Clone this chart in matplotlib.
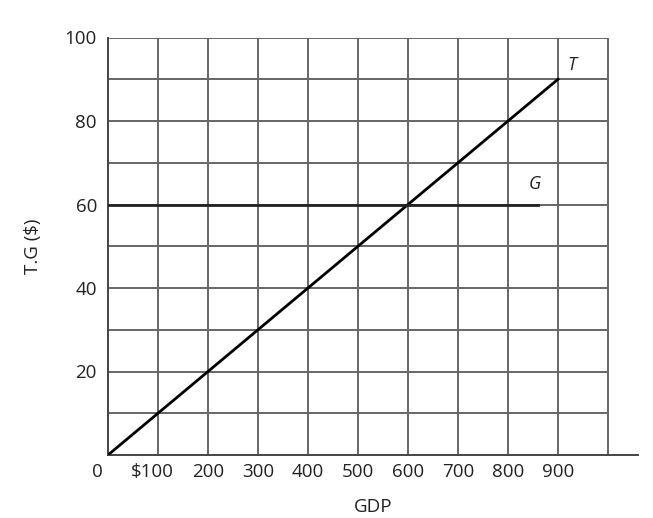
import matplotlib
matplotlib.use("Agg")
from matplotlib import pyplot as plt
from matplotlib.transforms import ScaledTranslation

# data
gdp = [0, 900]
taxes = [0, 90]
gov_x = [0, 860]
gov_y = [60, 60]
xticks = [0, 100, 200, 300, 400, 500, 600, 700, 800, 900]
xlabels = ["0", "$100", "200", "300", "400", "500", "600", "700", "800", "900"]
yticks = [20, 40, 60, 80, 100]
ylabels = ["20", "40", "60", "80", "100"]

plt.rcParams['font.family'] = ['Open Sans', 'DejaVu Sans']

fig = plt.figure(figsize=(6.53, 5.18), dpi=100)
ax = fig.add_axes([108/653, 63/518, 530/653, 417.5/518])

ax.set_xlim(0, 1060)
ax.set_ylim(0, 100)

#grid
grid_col = "#666666"
ax.vlines(range(100, 1001, 100), 0, 100, color=grid_col, lw=1.4, zorder=1)
ax.hlines(range(10, 101, 10), 0, 1000, color=grid_col, lw=1.4, zorder=1)

ax.plot(gdp, taxes, color="black", lw=2, zorder=3)
ax.plot(gov_x, gov_y, color="#222222", lw=2, zorder=3)

ax.text(928, 93.5, "T", style="italic", fontsize=13, ha="center", va="center", color="#222222")
ax.text(854, 64.8, "G", style="italic", fontsize=13, ha="center", va="center", color="#222222")

for s in ["top", "right"]:
    ax.spines[s].set_visible(False)
for s in ["left", "bottom"]:
    ax.spines[s].set_color("#444444")
    ax.spines[s].set_linewidth(1.4)

ax.set_xticks(xticks)
ax.set_xticklabels(xlabels, fontsize=13.5)
ax.set_yticks(yticks)
ax.set_yticklabels(ylabels, fontsize=13.5)
ax.tick_params(length=0, colors="#222222")
ax.tick_params(axis="x", pad=6)
ax.tick_params(axis="y", pad=8)

# shift the "0" and "$100" labels a bit left like the original
lbls = ax.get_xticklabels()
lbls[0].set_transform(lbls[0].get_transform() + ScaledTranslation(-8/72, 0, fig.dpi_scale_trans))
lbls[1].set_transform(lbls[1].get_transform() + ScaledTranslation(-4/72, 0, fig.dpi_scale_trans))

ax.set_xlabel("GDP", fontsize=13.5, labelpad=12, color="#222222")
ax.set_ylabel("T.G ($)", fontsize=13.5, labelpad=16, color="#222222")

fig.savefig("out.png", dpi=100)
